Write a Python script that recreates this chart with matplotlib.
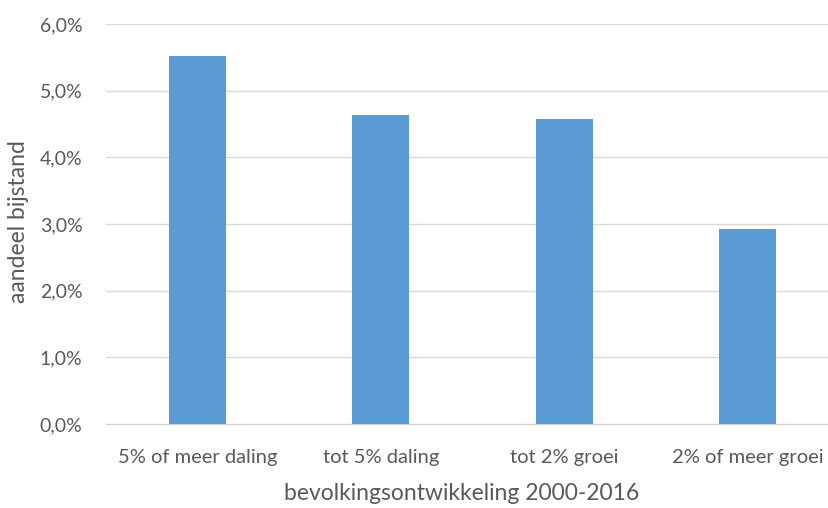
import matplotlib.pyplot as plt
from matplotlib.ticker import FuncFormatter

# Data
categories = ["5% of meer daling", "tot 5% daling", "tot 2% groei", "2% of meer groei"]
aandeel = [5.52, 4.63, 4.57, 2.92]

plt.rcParams["font.family"] = ["Lato", "DejaVu Sans"]

fig = plt.figure(figsize=(8.29, 5.08), dpi=100)
# plot area runs past the right edge, as in the original
ax = fig.add_axes([106 / 829, 1 - 424 / 508, 733 / 829, 400 / 508])

x = range(len(categories))
ax.bar(x, aandeel, width=0.31, color="#5B9BD5", zorder=3)

ax.set_ylim(0, 6)
ax.set_xlim(-0.5, len(categories) - 0.5)
ax.set_yticks([0, 1, 2, 3, 4, 5, 6])
ax.yaxis.set_major_formatter(FuncFormatter(lambda v, p: f"{v:.1f}%".replace(".", ",")))
ax.set_xticks(list(x))
ax.set_xticklabels(categories)

ax.grid(axis="y", color="#D9D9D9", linewidth=1, zorder=0)
for s in ["top", "right", "left"]:
    ax.spines[s].set_visible(False)
ax.spines["bottom"].set_color("#D0D0D0")
ax.spines["bottom"].set_zorder(4)

ax.tick_params(length=0, colors="#595959")
ax.tick_params(axis="y", labelsize=14, pad=17)
ax.tick_params(axis="x", labelsize=14.5, pad=18)

# axis titles placed by hand
fig.text(19 / 829, 1 - 222 / 508, "aandeel bijstand", rotation=90, ha="center", va="center",
         fontsize=16.5, color="#595959")
fig.text(462 / 829, 1 - 493 / 508, "bevolkingsontwikkeling 2000-2016", ha="center", va="center",
         fontsize=16.5, color="#595959")

plt.savefig("out.png", dpi=100)
